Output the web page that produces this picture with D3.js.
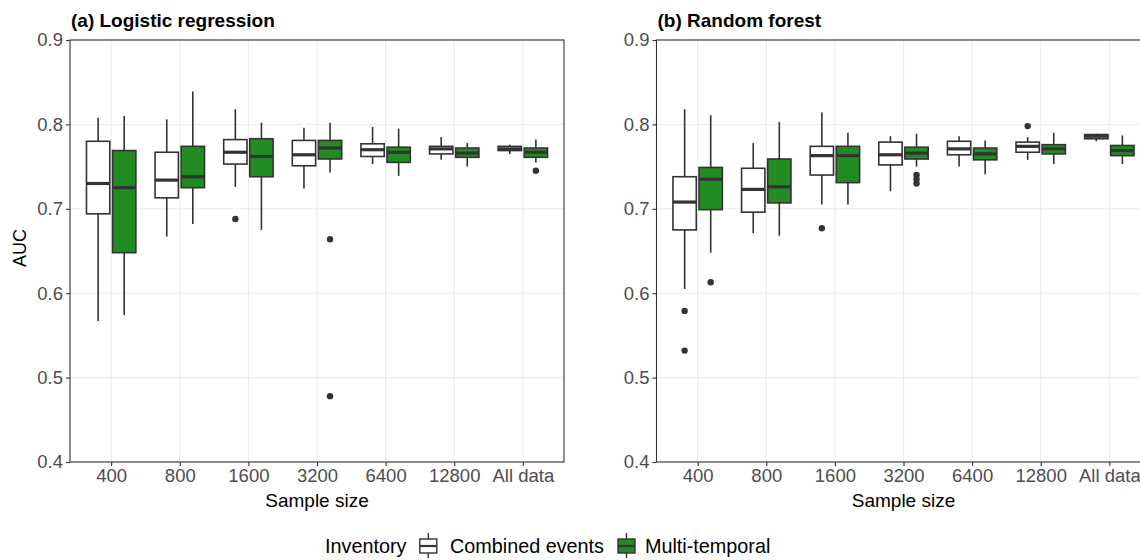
<!DOCTYPE html>
<html>
<head>
<meta charset="utf-8">
<script src="https://cdn.jsdelivr.net/npm/d3@7"></script>
<style>
  body { margin: 0; background: #fff; }
  svg { font-family: "Liberation Sans", Arial, sans-serif; }
</style>
</head>
<body>
<svg id="chart" width="1140" height="560"></svg>
<script>
// sample sizes on the x axis
const sizes = ["400", "800", "1600", "3200", "6400", "12800", "All data"];
const series = ["Combined events", "Multi-temporal"];
const yTicks = [0.4, 0.5, 0.6, 0.7, 0.8, 0.9];

// box stats: [lower whisker, q1, median, q3, upper whisker]
const lrCombined = [
  [0.567, 0.694, 0.730, 0.780, 0.808],
  [0.667, 0.713, 0.734, 0.767, 0.806],
  [0.726, 0.753, 0.767, 0.782, 0.818],
  [0.724, 0.751, 0.764, 0.781, 0.796],
  [0.753, 0.762, 0.770, 0.777, 0.797],
  [0.758, 0.765, 0.771, 0.774, 0.785],
  [0.765, 0.769, 0.771, 0.774, 0.776]
];
const lrMulti = [
  [0.574, 0.648, 0.725, 0.769, 0.810],
  [0.682, 0.725, 0.738, 0.774, 0.839],
  [0.675, 0.738, 0.762, 0.783, 0.802],
  [0.743, 0.759, 0.772, 0.781, 0.802],
  [0.739, 0.755, 0.767, 0.773, 0.795],
  [0.750, 0.761, 0.766, 0.772, 0.778],
  [0.755, 0.761, 0.767, 0.772, 0.782]
];
const rfCombined = [
  [0.605, 0.675, 0.708, 0.738, 0.818],
  [0.671, 0.696, 0.723, 0.748, 0.778],
  [0.705, 0.740, 0.763, 0.774, 0.814],
  [0.721, 0.752, 0.764, 0.779, 0.786],
  [0.750, 0.764, 0.771, 0.780, 0.786],
  [0.758, 0.767, 0.774, 0.779, 0.785],
  [0.780, 0.783, 0.786, 0.788, 0.789]
];
const rfMulti = [
  [0.648, 0.699, 0.735, 0.749, 0.811],
  [0.668, 0.707, 0.726, 0.759, 0.803],
  [0.705, 0.731, 0.763, 0.774, 0.790],
  [0.750, 0.759, 0.766, 0.773, 0.789],
  [0.741, 0.758, 0.765, 0.772, 0.781],
  [0.753, 0.765, 0.771, 0.776, 0.790],
  [0.753, 0.763, 0.769, 0.775, 0.787]
];

// outliers: [size, series index, value]
const lrOutliers = [
  ["1600", 0, 0.688],
  ["3200", 1, 0.664],
  ["3200", 1, 0.478],
  ["All data", 1, 0.745]
];
const rfOutliers = [
  ["400", 0, 0.579],
  ["400", 0, 0.532],
  ["400", 1, 0.613],
  ["1600", 0, 0.677],
  ["3200", 1, 0.740],
  ["3200", 1, 0.735],
  ["3200", 1, 0.730],
  ["12800", 0, 0.798]
];

const fills = ["#ffffff", "#228b22"];
const svg = d3.select("#chart");

const panels = [
  { title: "(a) Logistic regression", left: 70, data: [lrCombined, lrMulti], out: lrOutliers, yTitle: true },
  { title: "(b) Random forest", left: 656.5, data: [rfCombined, rfMulti], out: rfOutliers, yTitle: false }
];

const plotTop = 40, plotBottom = 462, pw = 494;

panels.forEach(p => drawPanel(p));

function drawPanel(p) {
  const x = d3.scalePoint().domain(sizes).range([p.left, p.left + pw]).padding(0.6);
  const y = d3.scaleLinear().domain([0.4, 0.9]).range([plotBottom, plotTop]);
  const step = x.step();
  const bw = step * 0.34, off = step * 0.19;

  const g = svg.append("g");

  // grid
  g.selectAll(".hg").data(yTicks).enter().append("line")
    .attr("x1", p.left).attr("x2", p.left + pw)
    .attr("y1", d => y(d)).attr("y2", d => y(d))
    .attr("stroke", "#ebebeb").attr("stroke-width", 1.1);
  g.selectAll(".vg").data(sizes).enter().append("line")
    .attr("x1", d => x(d)).attr("x2", d => x(d))
    .attr("y1", plotTop).attr("y2", plotBottom)
    .attr("stroke", "#ebebeb").attr("stroke-width", 1.1);

  // boxes
  p.data.forEach((stats, si) => {
    const dx = si === 0 ? -off : off;
    const b = g.selectAll(".b" + si).data(stats).enter().append("g");
    b.append("line")
      .attr("x1", (d, i) => x(sizes[i]) + dx).attr("x2", (d, i) => x(sizes[i]) + dx)
      .attr("y1", d => y(d[0])).attr("y2", d => y(d[4]))
      .attr("stroke", "#333").attr("stroke-width", 1.6);
    b.append("rect")
      .attr("x", (d, i) => x(sizes[i]) + dx - bw / 2).attr("width", bw)
      .attr("y", d => y(d[3])).attr("height", d => y(d[1]) - y(d[3]))
      .attr("fill", fills[si]).attr("stroke", "#333").attr("stroke-width", 1.6);
    b.append("line")
      .attr("x1", (d, i) => x(sizes[i]) + dx - bw / 2).attr("x2", (d, i) => x(sizes[i]) + dx + bw / 2)
      .attr("y1", d => y(d[2])).attr("y2", d => y(d[2]))
      .attr("stroke", "#333").attr("stroke-width", 3.2);
  });

  g.selectAll(".out").data(p.out).enter().append("circle")
    .attr("cx", d => x(d[0]) + (d[1] === 0 ? -off : off))
    .attr("cy", d => y(d[2]))
    .attr("r", 3.2).attr("fill", "#333");

  // border
  g.append("rect")
    .attr("x", p.left).attr("y", plotTop).attr("width", pw).attr("height", plotBottom - plotTop)
    .attr("fill", "none").attr("stroke", "#333").attr("stroke-width", 1.1);

  // axes
  const ya = g.append("g").attr("transform", `translate(${p.left},0)`)
    .call(d3.axisLeft(y).tickValues(yTicks).tickFormat(d3.format(".1f")).tickSize(4).tickPadding(3));
  const xa = g.append("g").attr("transform", `translate(0,${plotBottom})`)
    .call(d3.axisBottom(x).tickSize(4).tickPadding(3));
  [ya, xa].forEach(a => {
    a.select(".domain").remove();
    a.selectAll("line").attr("stroke", "#333").attr("stroke-width", 1.1);
    a.selectAll("text").attr("fill", "#4d4d4d").style("font-size", "18.5px")
      .style("font-family", "'Liberation Sans', Arial, sans-serif");
  });

  g.append("text")
    .attr("x", p.left + 1).attr("y", 27)
    .style("font-size", "19px").style("font-weight", "bold")
    .text(p.title);

  g.append("text")
    .attr("x", p.left + pw / 2).attr("y", 507)
    .attr("text-anchor", "middle").style("font-size", "19px")
    .text("Sample size");

  if (p.yTitle) {
    g.append("text")
      .attr("transform", `translate(26,${(plotTop + plotBottom) / 2 - 3}) rotate(-90)`)
      .attr("text-anchor", "middle").style("font-size", "18px")
      .text("AUC");
  }
}

// legend
const lg = svg.append("g");
lg.append("text").attr("x", 325).attr("y", 553).style("font-size", "19.8px").text("Inventory");
const keyX = [428.3, 626.5];
const labX = [450, 645];
series.forEach((s, i) => {
  const k = lg.append("g");
  k.append("line").attr("x1", keyX[i]).attr("x2", keyX[i]).attr("y1", 533).attr("y2", 558)
    .attr("stroke", "#333").attr("stroke-width", 1.4);
  k.append("rect").attr("x", keyX[i] - 8.5).attr("y", 539).attr("width", 17).attr("height", 14)
    .attr("fill", fills[i]).attr("stroke", "#333").attr("stroke-width", 1.4);
  k.append("line").attr("x1", keyX[i] - 8.5).attr("x2", keyX[i] + 8.5).attr("y1", 546).attr("y2", 546)
    .attr("stroke", "#333").attr("stroke-width", 2.2);
  lg.append("text").attr("x", labX[i]).attr("y", 553).style("font-size", "19.8px").text(s);
});
</script>
</body>
</html>
